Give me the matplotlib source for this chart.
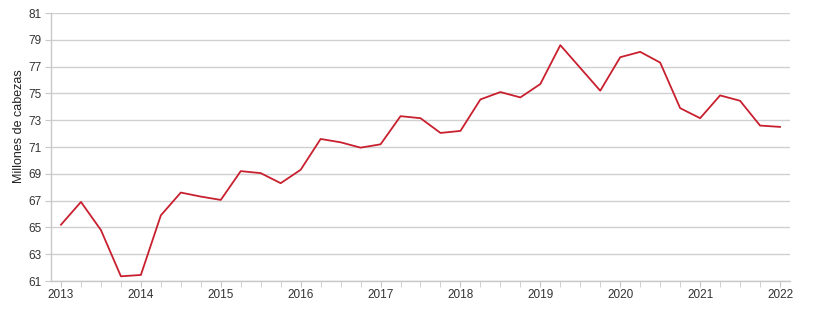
import numpy as np
import matplotlib.pyplot as plt

plt.rcParams["font.family"] = ["Liberation Sans", "DejaVu Sans"]

# -----------------------------
# Data (quarterly, 2013 Q1 - 2022 Q1)
# -----------------------------
years = [2013, 2014, 2015, 2016, 2017, 2018, 2019, 2020, 2021, 2022]
values = [
    65.2, 66.9, 64.8, 61.35,
    61.45, 65.9, 67.6, 67.3,
    67.05, 69.2, 69.05, 68.3,
    69.3, 71.6, 71.35, 70.95,
    71.2, 73.3, 73.15, 72.05,
    72.2, 74.55, 75.1, 74.7,
    75.7, 78.6, 76.9, 75.2,
    77.7, 78.1, 77.3, 73.9,
    73.15, 74.85, 74.45, 72.6,
    72.5,
]
yticks = [61, 63, 65, 67, 69, 71, 73, 75, 77, 79, 81]

x = np.arange(len(values))

# -----------------------------
# Plot
# -----------------------------
fig = plt.figure(figsize=(8.2, 3.17), dpi=100)
ax = fig.add_axes([51 / 820, 1 - 281 / 317, (790 - 51) / 820, 268 / 317])

ax.plot(x, values, color="#c8202f", linewidth=1.3, zorder=3)

ax.set_xlim(-0.5, len(values) - 0.5)
ax.set_ylim(61, 81)
ax.set_yticks(yticks)
ax.set_xticks(np.arange(0, len(values), 4))
ax.set_xticklabels([str(y) for y in years])
ax.set_xticks(x, minor=True)

ax.grid(axis="y", color="#d0d0d0", linewidth=1)
ax.set_axisbelow(True)

for s in ["top", "right"]:
    ax.spines[s].set_visible(False)
for s in ["left", "bottom"]:
    ax.spines[s].set_color("#c8c8c8")
    ax.spines[s].set_linewidth(1)

ax.tick_params(axis="y", length=4, color="#c8c8c8", labelsize=8.5,
               labelcolor="#333333", pad=3)
ax.tick_params(axis="x", which="both", length=4, color="#c8c8c8",
               labelsize=8.5, labelcolor="#333333", pad=2)

ax.set_ylabel("Millones de cabezas", fontsize=9, color="#222222")
ax.yaxis.set_label_coords(-0.035, 0.578)

fig.savefig("out.png", dpi=100)
